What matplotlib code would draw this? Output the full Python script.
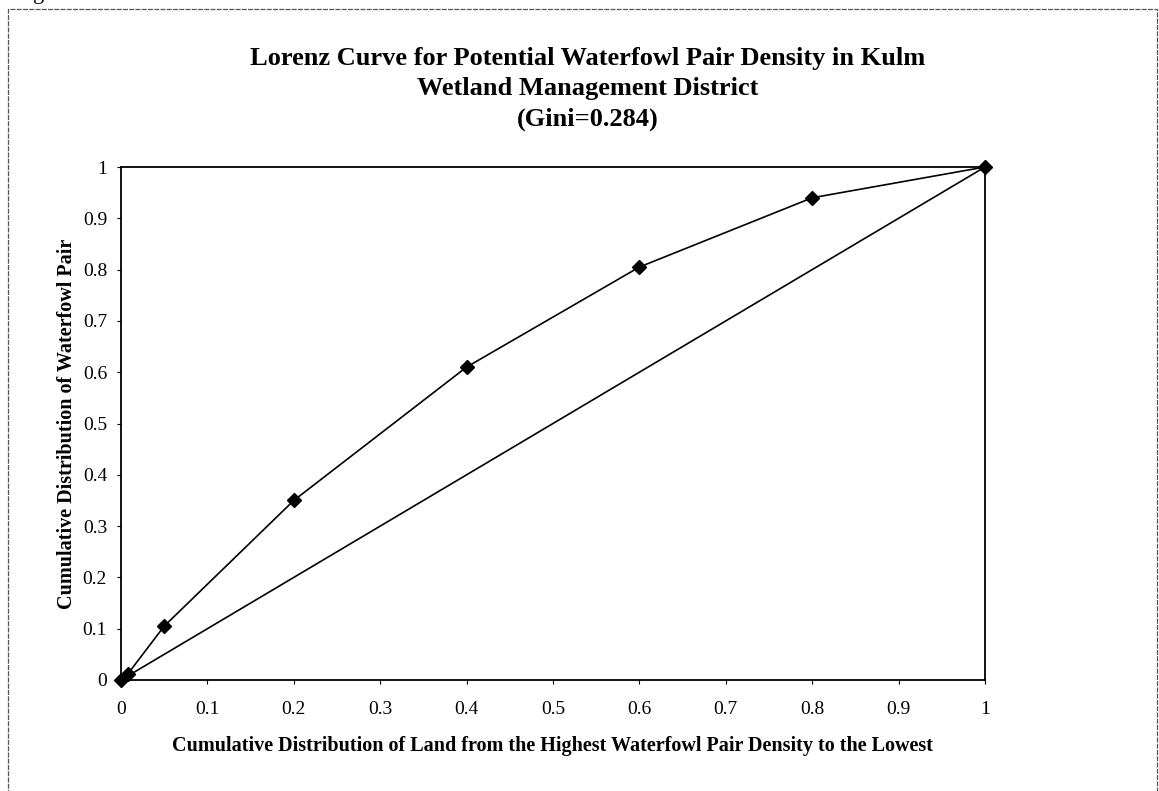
import matplotlib
matplotlib.use("Agg")
import matplotlib.pyplot as plt
from matplotlib.patches import Rectangle

x_land = [0.0, 0.008, 0.05, 0.2, 0.4, 0.6, 0.8, 1.0]
y_pair = [0.0, 0.012, 0.105, 0.35, 0.61, 0.805, 0.94, 1.0]
equality = [0.0, 1.0]
ticks = [0, 0.1, 0.2, 0.3, 0.4, 0.5, 0.6, 0.7, 0.8, 0.9, 1]
tick_labels = ["0", "0.1", "0.2", "0.3", "0.4", "0.5", "0.6", "0.7", "0.8", "0.9", "1"]

title_lines = ["Lorenz Curve for Potential Waterfowl Pair Density in Kulm",
               "Wetland Management District",
               "(Gini=0.284)"]
xlabel = "Cumulative Distribution of Land from the Highest Waterfowl Pair Density to the Lowest"
ylabel = "Cumulative Distribution of Waterfowl Pair"

plt.rcParams['font.family'] = ['Liberation Serif', 'DejaVu Serif']

W, H = 1159, 791
fig = plt.figure(figsize=(W / 100, H / 100), dpi=100)

# outer frame of the figure box (continues below the page edge)
fig.patches.append(Rectangle((8 / W, -0.05), (1157 - 8) / W, 1.05 - 9 / H,
                             transform=fig.transFigure, fill=False,
                             edgecolor='#555555', linewidth=0.9,
                             linestyle=(0, (4, 1))))

# caption letter cut off at the top edge, as in the scanned page
fig.text(33 / W, 1 + 1.5 / H, "g", ha='left', va='baseline', fontsize=16)

left, right, top, bottom = 121, 985, 167, 680
ax = fig.add_axes([left / W, 1 - bottom / H, (right - left) / W, (bottom - top) / H])

ax.plot(equality, equality, color='black', linewidth=1.2, zorder=2)
ax.plot(x_land, y_pair, color='black', linewidth=1.2, marker='D',
        markersize=7, zorder=3, clip_on=False)

ax.set_xlim(0, 1)
ax.set_ylim(0, 1)
ax.set_xticks(ticks)
ax.set_xticklabels(tick_labels)
ax.set_yticks(ticks)
ax.set_yticklabels(tick_labels)
ax.tick_params(direction='out', length=3, width=0.8, labelsize=14,
               colors='black')
ax.tick_params(axis='x', pad=12)
ax.tick_params(axis='y', pad=7)
for s in ax.spines.values():
    s.set_linewidth(1.3)
    s.set_color('black')

ax.set_xlabel(xlabel, fontsize=14.5, fontweight='bold', labelpad=13)
ax.set_ylabel(ylabel, fontsize=14.5, fontweight='bold', labelpad=4)

title_y = [58, 89, 119]
for line, ty in zip(title_lines, title_y):
    fig.text(588 / W, 1 - ty / H, line, ha='center', va='center',
             fontsize=19, fontweight='bold')

fig.savefig("out.png", dpi=100)
